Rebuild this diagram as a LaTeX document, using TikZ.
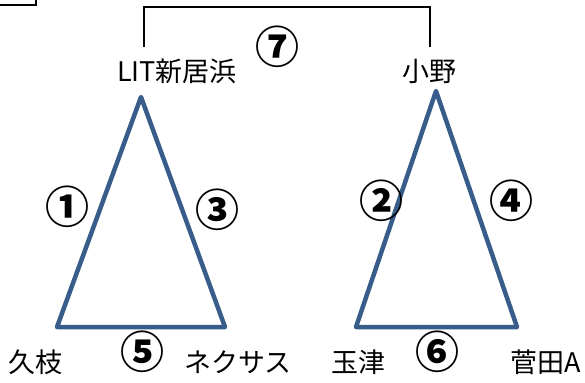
\documentclass[tikz,border=0pt]{standalone}
\usepackage{fontspec}
\setmainfont{Noto Sans CJK JP}
\usepackage{xcolor}
\usepackage{tikz}
\usetikzlibrary{positioning,calc}
\definecolor{edgeblue}{RGB}{56,93,138}
\tikzset{
  team/.style={inner sep=0pt, font=\fontsize{27}{27}\selectfont},
  gamenum/.style={inner sep=0pt, font=\fontsize{44}{44}\selectfont\bfseries},
  tri/.style={draw=edgeblue, line width=4.5pt, line join=round},
  bracket/.style={draw=black, line width=2.5pt}
}

\begin{document}
\begin{tikzpicture}[x=1pt, y=-1pt]
  \useasboundingbox (0,0) rectangle (585,382);
  % Teams
  \node[team] (lit) at (177,71) {LIT新居浜};
  \node[team] (ono) at (429,71) {小野};
  \node[team] (hisaeda) at (36,362) {久枝};
  \node[team] (nexus) at (238,362) {ネクサス};
  \node[team] (tamatsu) at (358,362) {玉津};
  \node[team] (sugeta) at (546,362) {菅田A};
  % Triangles
  \coordinate (la) at (141,97);
  \coordinate (ll) at (57,327);
  \coordinate (lr) at (225,327);
  \coordinate (ra) at (436,91);
  \coordinate (rl) at (356,327);
  \coordinate (rr) at (517,327);
  \draw[tri] (la) -- (lr) -- (ll) -- cycle;
  \draw[tri] (ra) -- (rr) -- (rl) -- cycle;
  % Final bracket
  \coordinate (fl) at (144,47);
  \coordinate (fr) at (430,47);
  \draw[bracket] (fl) -- ++(0,-40) -| (fr);
  \coordinate (cl) at (0,5);
  \draw[bracket] (cl) -| (36,-2);
  % Game numbers
  \node[gamenum] (g1) at (67,207) {①};
  \node[gamenum] (g2) at (381,201) {②};
  \node[gamenum] (g3) at (217,210) {③};
  \node[gamenum] (g4) at (511,201) {④};
  \node[gamenum] (g5) at (142,352) {⑤};
  \node[gamenum] (g6) at (437,352) {⑥};
  \node[gamenum] (g7) at (277,47) {⑦};
\end{tikzpicture}
\end{document}
